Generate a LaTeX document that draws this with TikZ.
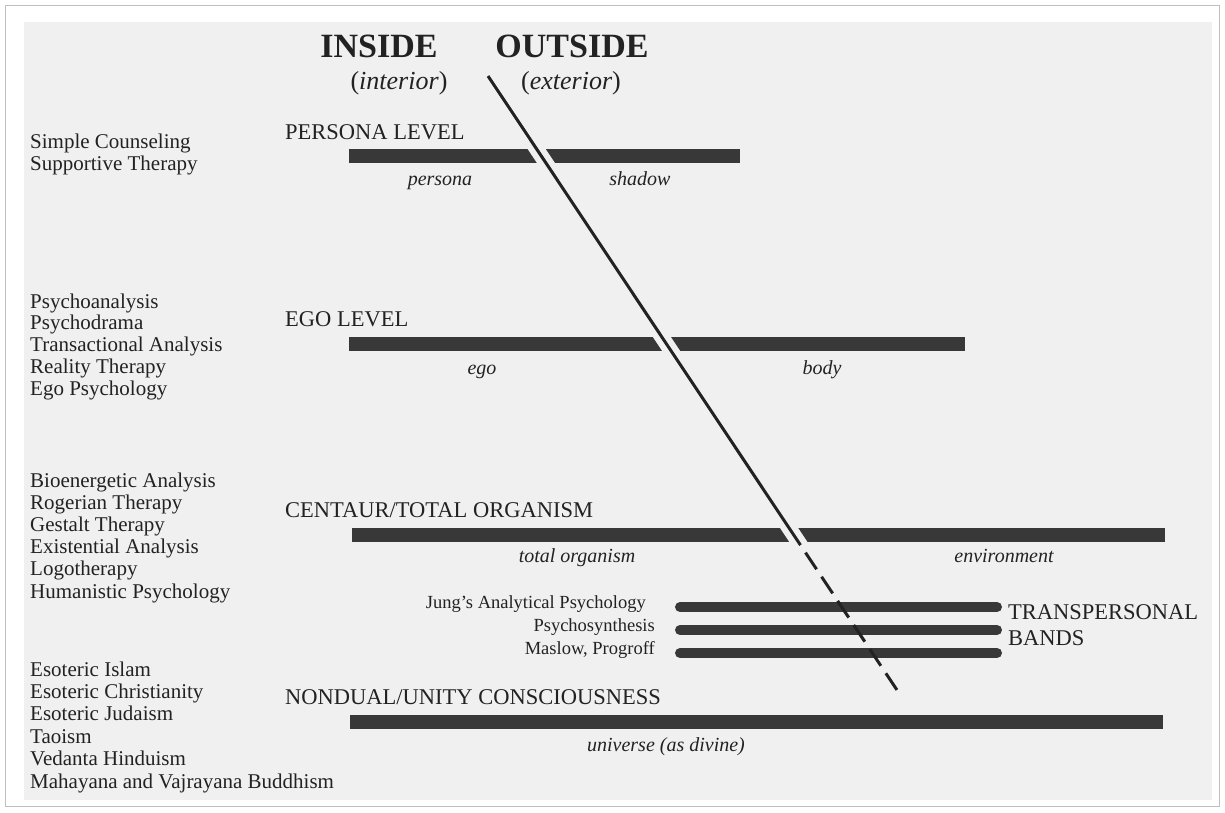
\documentclass[tikz,border=0pt]{standalone}
\usepackage{fontspec}
\setmainfont{Liberation Serif}
\usetikzlibrary{calc}
\definecolor{paper}{HTML}{F0F0F0}
\definecolor{ink}{HTML}{222222}
\definecolor{barc}{HTML}{383838}
\begin{document}
\begin{tikzpicture}[x=1pt,y=-1pt,
  lst/.style={anchor=base west,inner sep=0pt,text=ink,font=\fontsize{21}{22}\selectfont},
  head/.style={anchor=base west,inner sep=0pt,text=ink,font=\fontsize{22.5}{26}\selectfont},
  title/.style={anchor=base,inner sep=0pt,text=ink,font=\fontsize{34}{36}\selectfont\bfseries},
  sub/.style={anchor=base,inner sep=0pt,text=ink,font=\fontsize{26}{30}\selectfont},
  lab/.style={anchor=base,inner sep=0pt,text=ink,font=\fontsize{20}{24}\selectfont\itshape},
  small/.style={anchor=base east,inner sep=0pt,text=ink,font=\fontsize{18.5}{20}\selectfont},
  bar/.style={draw=barc,line width=14pt},
  band/.style={draw=barc,line width=10pt,line cap=round},
  diag/.style={draw=ink,line width=3pt},
]
\useasboundingbox (0,0) rectangle (1225,812);
\fill[white] (0,0) rectangle (1225,812);
\draw[black!25,line width=1pt,fill=white] (5,5) rectangle (1219,806);
\fill[paper] (24,22) rectangle (1212,800);

% titles
\node[title] (inside) at (379,57) {INSIDE};
\node[title] (outside) at (572,57) {OUTSIDE};
\node[sub] (interior) at (399,89) {(\textit{interior})};
\node[sub] (exterior) at (571,89) {(\textit{exterior})};

% level headings
\node[head] (persona) at (285,139) {PERSONA LEVEL};
\node[head] (egolevel) at (285,326) {EGO LEVEL};
\node[head] (centaur) at (285,517) {CENTAUR/TOTAL ORGANISM};
\node[head] (nondual) at (285,704) {NONDUAL/UNITY CONSCIOUSNESS};

% bars
\draw[bar] (349,156) -- (740,156);
\draw[bar] (349,344) -- (965,344);
\draw[bar] (352,535) -- (1165,535);
\draw[band] (680,607) -- (997,607);
\draw[band] (680,630) -- (997,630);
\draw[band] (680,653) -- (997,653);
\draw[bar] (350,722) -- (1163,722);

% diagonal boundary
\coordinate (s) at (488,76);
\coordinate (e) at (897,690);
\coordinate (m) at ($(s)!0.764!(e)$);
\draw[paper,line width=15pt] ($(s)!0.09!(e)$) -- ($(s)!0.775!(e)$);
\draw[diag] (s) -- (m);
\draw[diag,dash pattern=on 20pt off 9pt,dash phase=20pt] (m) -- (e);

% bar labels
\node[lab] (lpersona) at (440,185) {persona};
\node[lab] (lshadow) at (640,185) {shadow};
\node[lab] (lego) at (482,374) {ego};
\node[lab] (lbody) at (822,374) {body};
\node[lab] (ltotal) at (577,562) {total organism};
\node[lab] (lenv) at (1004,562) {environment};
\node[lab] (luniv) at (666,751) {universe (as divine)};

% transpersonal
\node[small] (jung) at (646,608) {Jung’s Analytical Psychology};
\node[small] (psyn) at (655,631) {Psychosynthesis};
\node[small] (maslow) at (655,654) {Maslow, Progroff};
\node[head] (trans) at (1008,619) {TRANSPERSONAL};
\node[head] (bands) at (1008,645) {BANDS};

% left lists
\node[lst] (p1) at (30,148) {Simple Counseling};
\node[lst] (p2) at (30,170) {Supportive Therapy};
\foreach \t [count=\i] in {Psychoanalysis,Psychodrama,Transactional Analysis,Reality Therapy,Ego Psychology}
  \node[lst] (e\i) at (30,{308+(\i-1)*21.8}) {\t};
\foreach \t [count=\i] in {Bioenergetic Analysis,Rogerian Therapy,Gestalt Therapy,Existential Analysis,Logotherapy,Humanistic Psychology}
  \node[lst] (c\i) at (30,{487+(\i-1)*22.2}) {\t};
\foreach \t [count=\i] in {Esoteric Islam,Esoteric Christianity,Esoteric Judaism,Taoism,Vedanta Hinduism,Mahayana and Vajrayana Buddhism}
  \node[lst] (n\i) at (30,{676+(\i-1)*22.4}) {\t};
\end{tikzpicture}
\end{document}
